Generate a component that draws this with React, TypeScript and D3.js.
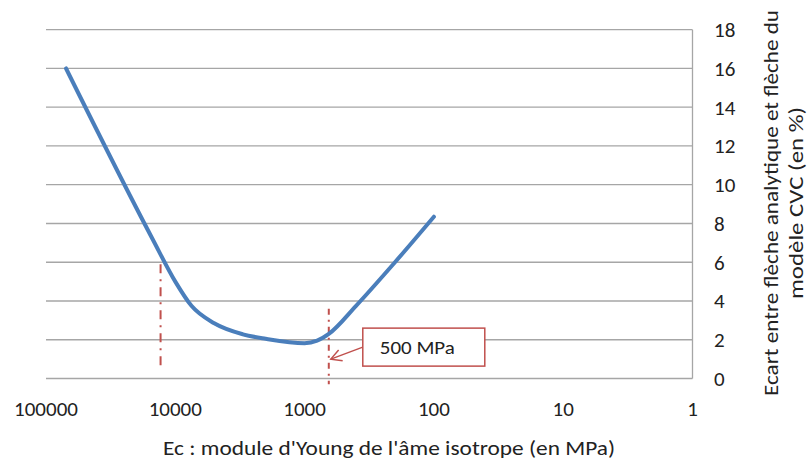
import * as d3 from "d3"

// Young's modulus of the core (MPa) and deflection gap (%)
const moduleE = [70000, 15000, 10000, 7500, 5000, 3000, 2000, 1000, 800, 650, 400, 200, 100]
const ecart = [16, 7.2, 5.0, 3.75, 2.85, 2.28, 2.05, 1.82, 1.95, 2.3, 3.75, 6.0, 8.35]

const xTicks = [100000, 10000, 1000, 100, 10, 1]
const yTicks = [0, 2, 4, 6, 8, 10, 12, 14, 16, 18]

// dash-dot reference lines
const refE = [13000, 650]
const refTop = [5.9, 3.6]
const refBottom = [0.4, -0.3]
const refDash = ["9,6,2,6", "6,5,2,5"]

const annotationText = "500 MPa"
const xTitle = "Ec : module d'Young de l'âme isotrope (en MPa)"
const yTitle = ["Ecart entre flèche analytique et flèche du", "modèle CVC (en %)"]

const W = 807
const H = 462
const FONT = "Carlito, Lato, 'Open Sans', sans-serif"
const RED = "#c0504d"
const INK = "#222"

export default function App() {
  const x = d3.scaleLog().domain([100000, 1]).range([46, 692.5])
  const y = d3.scaleLinear().domain([0, 18]).range([378.5, 29.7])

  const points = moduleE.map((e, i) => [e, ecart[i]] as [number, number])
  const line = d3
    .line<[number, number]>()
    .x((d) => x(d[0]))
    .y((d) => y(d[1]))
    .curve(d3.curveMonotoneX)

  // annotation box sits next to the second reference line
  const boxX = x(refE[1]) + 34
  const boxY = y(2.6)
  const boxW = 122
  const boxH = 38
  const tipX = x(refE[1]) + 2
  const tipY = y(1.0)
  const fromX = boxX
  const fromY = boxY + 19
  const ang = Math.atan2(fromY - tipY, fromX - tipX)
  const headLen = 12
  const h1 = [tipX + headLen * Math.cos(ang - 0.5), tipY + headLen * Math.sin(ang - 0.5)]
  const h2 = [tipX + headLen * Math.cos(ang + 0.5), tipY + headLen * Math.sin(ang + 0.5)]

  const [x0, x1] = x.range()

  return (
    <svg
      width={W}
      height={H}
      style={{ position: "absolute", left: 0, top: 0, background: "#fff" }}
      fontFamily={FONT}
    >
      {yTicks.map((t) => (
        <line key={t} x1={x0} x2={x1} y1={y(t)} y2={y(t)} stroke="#a6a6a6" strokeWidth={1.3} />
      ))}
      <line x1={x1} x2={x1} y1={y(18)} y2={y(0)} stroke="#a6a6a6" strokeWidth={1.3} />

      {yTicks.map((t) => (
        <text key={t} x={714} y={y(t)} dy="0.35em" fontSize={21} fill={INK}>
          {t}
        </text>
      ))}
      {xTicks.map((t) => (
        <text key={t} x={x(t)} y={409} dy="0.35em" fontSize={21} fill={INK} textAnchor="middle">
          {t}
        </text>
      ))}

      <text
        x={389}
        y={448}
        dy="0.35em"
        fontSize={20}
        fill={INK}
        textAnchor="middle"
        textLength={452}
        lengthAdjust="spacingAndGlyphs"
      >
        {xTitle}
      </text>
      <g transform="translate(771,203) rotate(-90)">
        <text
          x={0}
          y={0}
          dy="0.35em"
          fontSize={20}
          fill={INK}
          textAnchor="middle"
          textLength={386}
          lengthAdjust="spacingAndGlyphs"
        >
          {yTitle[0]}
        </text>
        <text
          x={0}
          y={25}
          dy="0.35em"
          fontSize={20}
          fill={INK}
          textAnchor="middle"
          textLength={192}
          lengthAdjust="spacingAndGlyphs"
        >
          {yTitle[1]}
        </text>
      </g>

      {refE.map((e, i) => (
        <line
          key={e}
          x1={x(e)}
          x2={x(e)}
          y1={y(refTop[i])}
          y2={y(refBottom[i])}
          stroke={RED}
          strokeWidth={2}
          strokeDasharray={refDash[i]}
        />
      ))}

      <path
        d={line(points) ?? ""}
        fill="none"
        stroke="#4a7ebb"
        strokeWidth={4}
        strokeLinecap="round"
        strokeLinejoin="round"
      />

      <line x1={fromX} y1={fromY} x2={tipX} y2={tipY} stroke={RED} strokeWidth={1.5} />
      <polyline
        points={`${h1[0]},${h1[1]} ${tipX},${tipY} ${h2[0]},${h2[1]}`}
        fill="none"
        stroke={RED}
        strokeWidth={1.5}
      />
      <rect x={boxX} y={boxY} width={boxW} height={boxH} fill="#fff" stroke={RED} strokeWidth={1.5} />
      <text
        x={boxX + 17}
        y={boxY + boxH / 2}
        dy="0.35em"
        fontSize={19}
        fill={INK}
        textLength={75}
        lengthAdjust="spacingAndGlyphs"
      >
        {annotationText}
      </text>
    </svg>
  )
}
